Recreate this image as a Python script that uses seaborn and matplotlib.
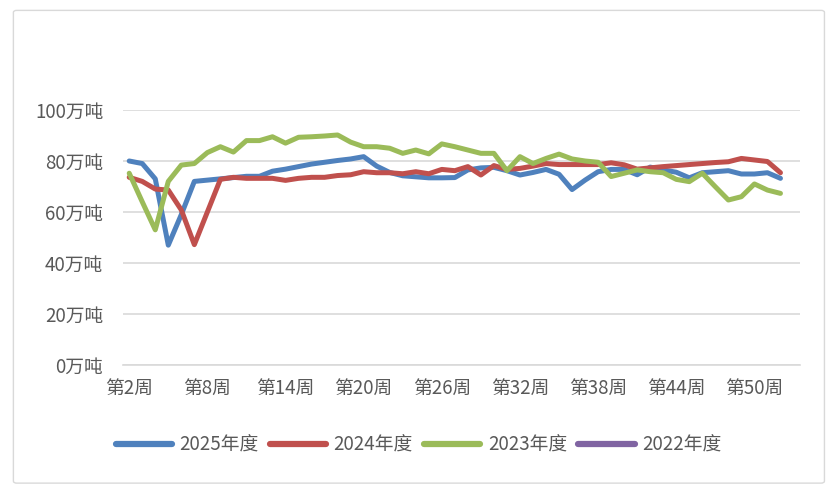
import numpy as np
import pandas as pd
import matplotlib
matplotlib.use("Agg")
import matplotlib.pyplot as plt
from matplotlib.lines import Line2D
from matplotlib.patches import FancyBboxPatch
import seaborn as sns

# weekly volume, 万吨; categories run from week 2 to week 53
weeks = list(range(2, 54))
series_names = ["2025年度", "2024年度", "2023年度", "2022年度"]
colors = ["#4F81BD", "#C0504D", "#9BBB59", "#8064A2"]

vals_2025 = [80, 79, 73, 47, 59, 72, 72.5, 73, 73.5, 74, 74, 76, 76.8, 77.8, 78.8, 79.5,
             80.2, 80.8, 81.7, 78, 75.5, 74.2, 73.8, 73.4, 73.4, 73.5, 76.5, 77.3, 77.5,
             76.2, 74.5, 75.5, 76.7, 74.8, 68.8, 72.5, 75.8, 76.7, 76.7, 74.6, 77.6, 76.5,
             75.6, 73.4, 75.4, 75.8, 76.2, 74.9, 74.9, 75.4, 73.2]
vals_2024 = [73.6, 72, 69, 68.6, 60.8, 47.2, 60, 72.8, 73.6, 73.2, 73.2, 73.2, 72.4, 73.2,
             73.6, 73.6, 74.3, 74.6, 75.8, 75.4, 75.4, 75, 75.8, 75, 76.7, 76.2, 77.8, 74.5,
             78.2, 76.7, 77.1, 78, 79, 78.6, 78.6, 78.6, 78.6, 79.3, 78.5, 76.8, 77.3, 77.8,
             78.2, 78.6, 79, 79.4, 79.7, 81, 80.4, 79.8, 75.4]
vals_2023 = [75.2, 64, 53, 72, 78.4, 79, 83.3, 85.6, 83.5, 88, 88, 89.5, 87, 89.3, 89.5,
             89.8, 90.2, 87.4, 85.6, 85.6, 85, 83, 84.3, 82.8, 86.7, 85.6, 84.3, 83, 83,
             76.2, 81.7, 79, 81, 82.7, 80.8, 80, 79.5, 73.9, 75.2, 76.5, 75.8, 75.4, 72.8,
             71.9, 75.2, 69.9, 64.7, 66, 71, 68.6, 67.3]
vals_2022 = []  # no data shown

rows = []
for name, vals in zip(series_names, [vals_2025, vals_2024, vals_2023, vals_2022]):
    for i, w in enumerate(weeks):
        v = vals[i] if i < len(vals) else np.nan
        rows.append({"idx": i, "week": w, "series": name, "value": v})
df = pd.DataFrame(rows).dropna()

sns.set_style("white")
plt.rcParams["font.family"] = ["Noto Sans CJK SC", "DejaVu Sans"]
text_color = "#595959"
grid_color = "#D9D9D9"
fs = 13.5

fig = plt.figure(figsize=(8.37, 4.95), dpi=100)
fig.patches.append(FancyBboxPatch((0.016, 0.024), 0.969, 0.955, boxstyle="round,pad=0,rounding_size=0.004",
                                  transform=fig.transFigure, fill=False, edgecolor=grid_color, linewidth=1))
ax = fig.add_axes([0.1466, 0.2626, 0.8092, 0.5152])

sns.lineplot(data=df, x="idx", y="value", hue="series", hue_order=series_names[:3],
             palette=colors[:3], linewidth=3.6, legend=False, ax=ax, sort=True)

ax.set_xlim(-0.5, len(weeks) - 0.5)
ax.set_ylim(0, 100)
yt = list(range(0, 101, 20))
ax.set_yticks(yt)
ax.set_yticklabels([f"{v}万吨" for v in yt], fontsize=fs, color=text_color)
ax.yaxis.grid(True, color=grid_color, linewidth=1.2)
ax.set_axisbelow(True)

xt = list(range(0, len(weeks), 6))
ax.set_xticks(xt)
ax.set_xticklabels([f"第{weeks[i]}周" for i in xt], fontsize=fs, color=text_color)
ax.set_xticks(np.arange(-0.5, len(weeks), 1), minor=True)
ax.tick_params(axis="x", which="major", length=0, pad=9)
ax.tick_params(axis="x", which="minor", length=6, width=1.2, color=grid_color, direction="out")
ax.tick_params(axis="y", length=0, pad=14)

for s in ["top", "right", "left"]:
    ax.spines[s].set_visible(False)
ax.spines["bottom"].set_color(grid_color)
ax.spines["bottom"].set_linewidth(1.2)
ax.set_xlabel("")
ax.set_ylabel("")

handles = [Line2D([0], [0], color=c, linewidth=4.5, solid_capstyle="round") for c in colors]
fig.legend(handles, series_names, loc="center", bbox_to_anchor=(0.5, 0.101), ncol=4,
           frameon=False, fontsize=fs, handlelength=3.0, handletextpad=0.4, columnspacing=0.6,
           labelcolor=text_color)

fig.savefig("out.png", dpi=100)
